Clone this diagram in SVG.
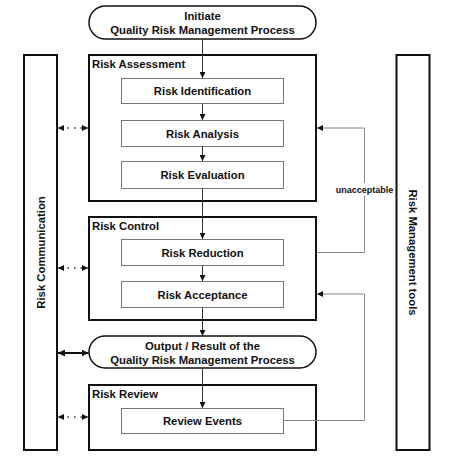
<svg xmlns="http://www.w3.org/2000/svg" width="450" height="471" viewBox="0 0 450 471">
<style>
text{font-family:"Liberation Sans",Arial,sans-serif;font-weight:bold;font-size:11.3px;fill:#111}
.c{text-anchor:middle}
.outer{fill:#fff;stroke:#111;stroke-width:2}
.inner{fill:#fff;stroke:#777;stroke-width:1}
.pill{fill:#fff;stroke:#111;stroke-width:1.5}
.ln{fill:none;stroke:#333;stroke-width:1}
.fb{fill:none;stroke:#888;stroke-width:1}
.dot{fill:none;stroke:#333;stroke-width:1.5;stroke-dasharray:1.5 5}
.dbl{fill:none;stroke:#111;stroke-width:2}
</style>
<defs>
<marker id="ah" viewBox="0 0 10 10" refX="10" refY="5" markerWidth="6" markerHeight="6" markerUnits="userSpaceOnUse" orient="auto-start-reverse">
<path d="M0,0 L10,5 L0,10 z" fill="#111"/>
</marker>
<marker id="ah2" viewBox="0 0 10 10" refX="10" refY="5" markerWidth="7" markerHeight="7" markerUnits="userSpaceOnUse" orient="auto-start-reverse">
<path d="M0,0 L10,5 L0,10 z" fill="#111"/>
</marker>
</defs>

<g id="risk-communication">
<rect class="outer" x="24" y="55" width="33" height="395"/>
<text class="c" transform="translate(44.5,252.5) rotate(-90)">Risk Communication</text>
</g>
<g id="risk-management-tools">
<rect class="outer" x="396.5" y="55" width="33" height="395"/>
<text class="c" transform="translate(408.5,252.5) rotate(90)">Risk Management tools</text>
</g>

<g id="risk-assessment">
<rect class="outer" x="89" y="55" width="227" height="146"/>
<text x="92" y="68">Risk Assessment</text>
</g>
<g id="risk-control">
<rect class="outer" x="89" y="217" width="227" height="103"/>
<text x="92" y="230">Risk Control</text>
</g>
<g id="risk-review">
<rect class="outer" x="89" y="385" width="227" height="65"/>
<text x="92" y="398">Risk Review</text>
</g>

<g id="initiate">
<rect class="pill" x="89" y="6" width="227" height="33" rx="16.5"/>
<text class="c" x="202.5" y="20">Initiate</text>
<text class="c" x="202.5" y="34">Quality Risk Management Process</text>
</g>
<g id="risk-identification">
<rect class="inner" x="121.5" y="78.5" width="162" height="25"/>
<text class="c" x="202.5" y="95">Risk Identification</text>
</g>
<g id="risk-analysis">
<rect class="inner" x="121.5" y="120.5" width="162" height="26"/>
<text class="c" x="202.5" y="137.5">Risk Analysis</text>
</g>
<g id="risk-evaluation">
<rect class="inner" x="121.5" y="161.5" width="162" height="27"/>
<text class="c" x="202.5" y="179">Risk Evaluation</text>
</g>
<g id="risk-reduction">
<rect class="inner" x="121.5" y="239.5" width="162" height="26"/>
<text class="c" x="202.5" y="256.5">Risk Reduction</text>
</g>
<g id="risk-acceptance">
<rect class="inner" x="121.5" y="281.5" width="162" height="26"/>
<text class="c" x="202.5" y="298.5">Risk Acceptance</text>
</g>
<g id="output">
<rect class="pill" x="89" y="336" width="227" height="32" rx="16"/>
<text class="c" x="202.5" y="350">Output / Result of the</text>
<text class="c" x="202.5" y="363.5">Quality Risk Management Process</text>
</g>
<g id="review-events">
<rect class="inner" x="121.5" y="408.5" width="162" height="25"/>
<text class="c" x="202.5" y="425">Review Events</text>
</g>

<g id="connectors">
<line class="ln" x1="202.5" y1="39" x2="202.5" y2="78" marker-end="url(#ah)"/>
<line class="ln" x1="202.5" y1="103.5" x2="202.5" y2="120" marker-end="url(#ah)"/>
<line class="ln" x1="202.5" y1="146.5" x2="202.5" y2="161" marker-end="url(#ah)"/>
<line class="ln" x1="202.5" y1="188.5" x2="202.5" y2="239" marker-end="url(#ah)"/>
<line class="ln" x1="202.5" y1="265.5" x2="202.5" y2="281" marker-end="url(#ah)"/>
<line class="ln" x1="202.5" y1="307.5" x2="202.5" y2="336" marker-end="url(#ah)"/>
<line class="ln" x1="202.5" y1="368" x2="202.5" y2="408" marker-end="url(#ah)"/>

<polyline class="fb" points="317,252.5 364.5,252.5 364.5,128 317,128" marker-end="url(#ah)"/>
<polyline class="fb" points="283.5,420.5 364.5,420.5 364.5,294 317,294" marker-end="url(#ah)"/>
<rect x="333" y="183" width="62" height="13" fill="#fff"/>
<text class="c" x="364.5" y="193" style="font-size:9px">unacceptable</text>

<line class="dot" x1="61" y1="128" x2="84" y2="128"/>
<line class="ln" x1="60" y1="128" x2="58" y2="128" marker-end="url(#ah)"/>
<line class="ln" x1="85" y1="128" x2="88" y2="128" marker-end="url(#ah)"/>
<line class="dot" x1="61" y1="268" x2="84" y2="268"/>
<line class="ln" x1="60" y1="268" x2="58" y2="268" marker-end="url(#ah)"/>
<line class="ln" x1="85" y1="268" x2="88" y2="268" marker-end="url(#ah)"/>
<line class="dot" x1="61" y1="417" x2="84" y2="417"/>
<line class="ln" x1="60" y1="417" x2="58" y2="417" marker-end="url(#ah)"/>
<line class="ln" x1="85" y1="417" x2="88" y2="417" marker-end="url(#ah)"/>
<line class="dbl" x1="58" y1="353" x2="88.5" y2="353" marker-start="url(#ah2)" marker-end="url(#ah2)"/>
</g>
</svg>
